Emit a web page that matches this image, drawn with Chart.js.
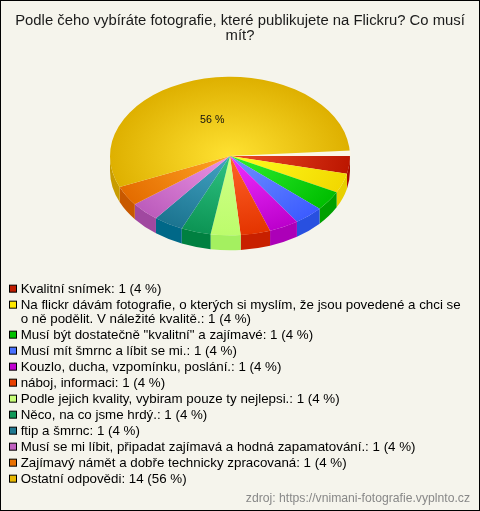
<!DOCTYPE html>
<html><head><meta charset="utf-8">
<style>html,body{margin:0;padding:0;background:#f5f4ec}canvas{display:block}</style>
<script src="https://cdn.jsdelivr.net/npm/chart.js@4"></script>
</head><body><div style="width:480px;height:511px"><canvas id="c" width="480" height="511"></canvas></div>
<script>
const titleLines = ['Podle čeho vybíráte fotografie, které publikujete na Flickru? Co musí', 'mít?'];
const sourceText = 'zdroj: https://vnimani-fotografie.vyplnto.cz';
const categories = [
 'Kvalitní snímek',
 'Na flickr dávám fotografie, o kterých si myslím, že jsou povedené a chci se\no ně podělit. V náležité kvalitě.',
 'Musí být dostatečně "kvalitní" a zajímavé',
 'Musí mít šmrnc a líbit se mi.',
 'Kouzlo, ducha, vzpomínku, poslání.',
 'náboj, informaci',
 'Podle jejich kvality, vybiram pouze ty nejlepsi.',
 'Něco, na co jsme hrdý.',
 'ftip a šmrnc',
 'Musí se mi líbit, připadat zajímavá a hodná zapamatování.',
 'Zajímavý námět a dobře technicky zpracovaná',
 'Ostatní odpovědi'
];
const values = [1,1,1,1,1,1,1,1,1,1,1,14];
const percents = [4,4,4,4,4,4,4,4,4,4,4,56];
const centerColors = ['#ec4a28','#ffff20','#30f030','#7090ff','#f030ff','#ff6428','#d0ff88','#30c484','#44a4c4','#ec94e4','#ffa424','#ffe232'];
const rimColors    = ['#bc1600','#f2d800','#00be00','#3c5cff','#bc00cc','#e43400','#bcfc6c','#0c9454','#1c7490','#bc5cbc','#e46c00','#deb000'];
const legendColors = ['#c01c00','#ffe800','#00c000','#4870ff','#c000d0','#e84000','#c8ff78','#109858','#207890','#c060c0','#e87000','#e8b800'];
const sideColors   = ['#a80c00','#e8d000','#00a000','#2850e0','#ac00b8','#c82000','#a4f060','#008040','#006888','#a048a0','#c85800','#c89c00'];

const PIE_CX = 230, PIE_CY = 156, PIE_R = 120, SQUASH = 0.66, DEPTH = 15;

const pie3d = {
  id: 'pie3d',
  beforeDraw(chart) {
    const c = chart.ctx;
    c.save();
    c.fillStyle = '#f5f4ec';
    c.fillRect(0, 0, chart.width, chart.height);
    c.strokeStyle = '#000';
    c.lineWidth = 1;
    c.strokeRect(0.5, 0.5, chart.width - 1, chart.height - 1);
    c.restore();
  },
  beforeDatasetsDraw(chart) {
    const c = chart.ctx, arcs = chart.getDatasetMeta(0).data;
    const ry = PIE_R * SQUASH;
    arcs.forEach((arc, i) => {
      const a0 = Math.max(arc.startAngle, 0), a1 = Math.min(arc.endAngle, Math.PI);
      if (a1 <= a0) return;
      c.beginPath();
      c.ellipse(PIE_CX, PIE_CY, PIE_R, ry, 0, a0, a1);
      c.ellipse(PIE_CX, PIE_CY + DEPTH, PIE_R, ry, 0, a1, a0, true);
      c.closePath();
      c.fillStyle = sideColors[i];
      c.fill();
    });
    const a = arcs[0];
    c.save();
    c.translate(PIE_CX, PIE_CY);
    c.scale(1, SQUASH);
    c.translate(-a.x, -a.y);
  },
  afterDatasetsDraw(chart) {
    const c = chart.ctx, arcs = chart.getDatasetMeta(0).data, a = arcs[0];
    // light wedge between the gold slice and the first slice
    c.beginPath();
    c.moveTo(a.x, a.y);
    c.arc(a.x, a.y, PIE_R + 1, -4 * Math.PI / 180, 0);
    c.closePath();
    c.fillStyle = '#fbf6e6';
    c.fill();
    c.restore();
    c.fillStyle = '#f5f4ec';
    c.fillRect(PIE_CX + PIE_R + 0.5, PIE_CY - 12, 3, 12);
    // percentage label
    const big = arcs[arcs.length - 1];
    const p = big.getCenterPoint();
    c.save();
    c.font = '10.67px "Liberation Sans"';
    c.fillStyle = '#111';
    c.textAlign = 'center';
    c.textBaseline = 'middle';
    c.fillText(percents[percents.length - 1] + ' %', PIE_CX + (p.x - a.x) - 5, PIE_CY + (p.y - a.y) * SQUASH + 3);
    c.restore();
  },
  afterLayout(chart) {
    const l = chart.legend;
    l.maxWidth = 476; l.maxHeight = 230;
    l.fit();
    l.left = 6.3; l.top = 280; l.right = l.left + 470; l.bottom = l.top + l.height;
    l.adjustHitBoxes();
  },
  afterDraw(chart) {
    const c = chart.ctx;
    c.save();
    // legend swatches, placed on the legend's own item boxes
    chart.legend.legendHitBoxes.forEach((h, i) => {
      c.fillStyle = legendColors[i];
      c.fillRect(9.5, h.top + 0.5 + 2, 7, 7);
      c.strokeStyle = '#000';
      c.lineWidth = 1;
      c.strokeRect(9.5, h.top + 0.5 + 2, 7, 7);
    });
    c.font = '12.2px "Liberation Sans"';
    c.fillStyle = '#888';
    c.textAlign = 'right';
    c.textBaseline = 'middle';
    c.fillText(sourceText, 470, 499);
    c.restore();
  }
};

new Chart(document.getElementById('c'), {
  type: 'pie',
  plugins: [pie3d],
  data: {
    labels: categories,
    datasets: [{
      data: values,
      borderWidth: 0,
      radius: PIE_R,
      backgroundColor(ctx) {
        const area = ctx.chart.chartArea;
        if (!area) return rimColors[ctx.dataIndex];
        const x = (area.left + area.right) / 2, y = (area.top + area.bottom) / 2;
        const g = ctx.chart.ctx.createRadialGradient(x, y, 0, x, y, PIE_R);
        g.addColorStop(0, centerColors[ctx.dataIndex]);
        g.addColorStop(1, rimColors[ctx.dataIndex]);
        return g;
      }
    }]
  },
  options: {
    responsive: false,
    animation: false,
    rotation: 88.5,
    layout: { padding: 0 },
    plugins: {
      tooltip: { enabled: false },
      title: {
        display: true, text: titleLines, color: '#1a1a1a',
        font: { family: '"Liberation Sans"', size: 14.85, weight: 'normal', lineHeight: 1.02 },
        padding: { top: 13.5, bottom: 6 }
      },
      legend: {
        display: true, position: 'chartArea', align: 'start',
        labels: {
          boxWidth: 5, boxHeight: 8, padding: 2.67, color: '#111',
          font: { family: '"Liberation Sans"', size: 13.33, lineHeight: 1.025 },
          generateLabels() {
            return categories.map((t, i) => {
              const lines = (t + ': ' + values[i] + ' (' + percents[i] + ' %)').split('\n');
              return {
                text: lines.length > 1 ? lines : lines[0],
                fillStyle: 'rgba(0,0,0,0)', strokeStyle: 'rgba(0,0,0,0)', lineWidth: 0, index: i
              };
            });
          }
        }
      }
    }
  }
});
</script></body></html>
